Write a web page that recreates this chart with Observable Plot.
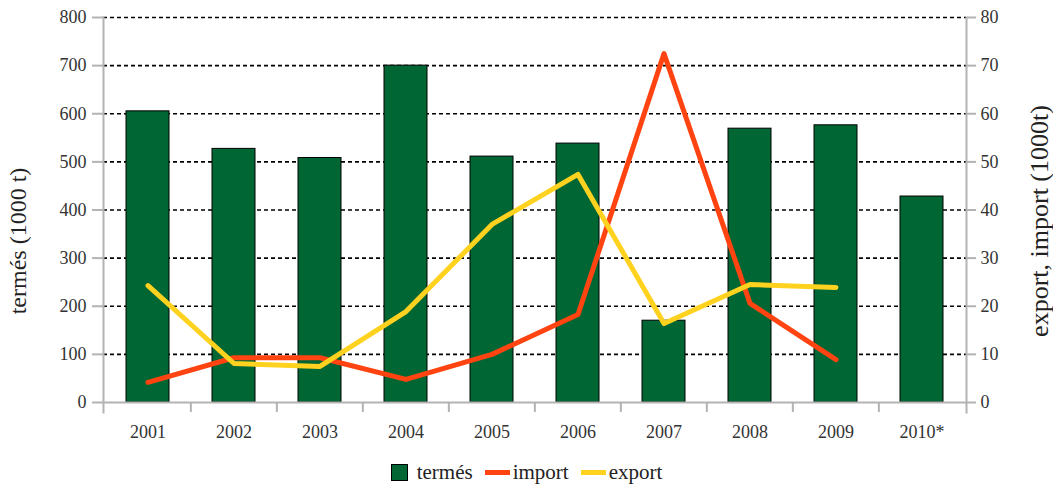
<!DOCTYPE html>
<html>
<head>
<meta charset="utf-8">
<script src="https://cdn.jsdelivr.net/npm/d3@7"></script>
<script src="https://cdn.jsdelivr.net/npm/@observablehq/plot@0.6"></script>
<style>
  html, body { margin: 0; padding: 0; background: #fff; }
  #chart { width: 1053px; height: 450px; }
  #chart svg text { font-family: "Liberation Serif", "DejaVu Serif", serif; }
  .legend { width: 1053px; display: flex; justify-content: center; align-items: center;
    font-family: "Liberation Serif", "DejaVu Serif", serif; font-size: 21px; color: #222; height: 44px; }
  .legend .item { display: flex; align-items: center; margin: 0 6px; }
  .sw-box { width: 15px; height: 15px; background: #006633; border: 1px solid #000; margin-right: 9px; }
  .sw-line { width: 25px; height: 5px; margin-right: 3px; }
</style>
</head>
<body>
<div id="chart"></div>
<div class="legend" id="legend"></div>
<script>
const years = ["2001","2002","2003","2004","2005","2006","2007","2008","2009","2010*"];
const termes = [605, 527, 508, 700, 511, 538, 170, 569, 576, 428];
const importYears = ["2001","2002","2003","2004","2005","2006","2007","2008","2009"];
const importVals = [4.2, 9.3, 9.3, 4.8, 10, 18.3, 72.5, 20.6, 8.9];
const exportVals = [24.3, 8.1, 7.5, 18.9, 37, 47.4, 16.4, 24.5, 23.9];
const leftTicks = [0, 100, 200, 300, 400, 500, 600, 700, 800];
const gridTicks = [100, 200, 300, 400, 500, 600, 700, 800];
const leftTitle = "termés (1000 t)";
const rightTitle = "export, import (1000t)";

const colors = { termes: "#006633", import: "#FF4411", export: "#FFD21F" };

const W = 1053, H = 450, mL = 103, mR = 87, mT = 17, mB = 48;
const padIn = 0.5, padOut = 0.25;
const step = (W - mL - mR) / (years.length - padIn + 2 * padOut);

const bars = years.map((y, i) => ({ year: y, value: termes[i] }));
const imp = importYears.map((y, i) => ({ year: y, value: importVals[i] }));
const exp = importYears.map((y, i) => ({ year: y, value: exportVals[i] }));

const axisColor = "#b3b3b3";
const textColor = "#333";
const fontFamily = "'Liberation Serif', 'DejaVu Serif', serif";

const chart = Plot.plot({
  width: W, height: H,
  marginLeft: mL, marginRight: mR, marginTop: mT, marginBottom: mB,
  style: { fontFamily, fontSize: "18px", color: textColor, background: "#fff" },
  x: { type: "band", domain: years, paddingInner: padIn, paddingOuter: padOut },
  y: { domain: [0, 800] },
  marks: [
    Plot.gridY(gridTicks, { stroke: "#000", strokeOpacity: 1, strokeWidth: 1.6, strokeDasharray: "4,3" }),
    Plot.barY(bars, { x: "year", y: "value", fill: colors.termes, stroke: "#000", strokeWidth: 1 }),
    Plot.lineY(imp, { x: "year", y: d => d.value * 10, stroke: colors.import, strokeWidth: 5, strokeLinejoin: "round" }),
    Plot.lineY(exp, { x: "year", y: d => d.value * 10, stroke: colors.export, strokeWidth: 5, strokeLinejoin: "round" }),
    Plot.ruleY([0], { stroke: axisColor, strokeWidth: 2 }),
    Plot.frame({ anchor: "left", stroke: axisColor, strokeWidth: 2, insetBottom: -10 }),
    Plot.frame({ anchor: "right", stroke: axisColor, strokeWidth: 2, insetBottom: -10 }),
    Plot.ruleX(years.slice(1), { x: d => d, y1: 0, y2: 0, insetBottom: -10, dx: -step / 2, stroke: axisColor, strokeWidth: 2 }),
    Plot.axisX({ tickSize: 0, tickPadding: 23, label: null, fill: textColor, fontSize: 18 }),
    Plot.axisY({ anchor: "left", ticks: leftTicks, tickSize: 11, tickPadding: 6, stroke: axisColor, strokeWidth: 2, fill: textColor, fontSize: 18, label: null }),
    Plot.axisY({ anchor: "right", ticks: leftTicks, tickFormat: d => d / 10, tickSize: 9, tickPadding: 5, stroke: axisColor, strokeWidth: 2, fill: textColor, fontSize: 18, label: null }),
    Plot.text([leftTitle], { frameAnchor: "left", text: d => d, rotate: -90, dx: -85, dy: 31, textAnchor: "middle", lineAnchor: "middle", fontSize: 24, fill: "#222" }),
    Plot.text([rightTitle], { frameAnchor: "right", text: d => d, rotate: -90, dx: 73, dy: 11, textAnchor: "middle", lineAnchor: "middle", fontSize: 26, fill: "#222" })
  ]
});
document.getElementById("chart").appendChild(chart);

const legendItems = [
  { name: "termés", kind: "box", color: colors.termes },
  { name: "import", kind: "line", color: colors.import },
  { name: "export", kind: "line", color: colors.export }
];
const legend = document.getElementById("legend");
for (const it of legendItems) {
  const el = document.createElement("div");
  el.className = "item";
  const sw = document.createElement("span");
  sw.className = it.kind === "box" ? "sw-box" : "sw-line";
  sw.style.background = it.color;
  el.appendChild(sw);
  const t = document.createElement("span");
  t.textContent = it.name;
  el.appendChild(t);
  legend.appendChild(el);
}
</script>
</body>
</html>
